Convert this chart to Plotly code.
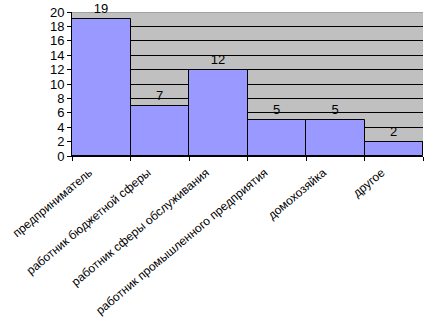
import plotly.graph_objects as go

categories = ["предприниматель", "работник бюджетной сферы", "работник сферы обслуживания",
              "работник промышленного предприятия", "домохозяйка", "другое"]
values = [19, 7, 12, 5, 5, 2]
y_ticks = list(range(0, 21, 2))

fig = go.Figure(go.Bar(
    x=categories, y=values,
    marker=dict(color="#9999ff", line=dict(color="black", width=1)),
    text=[str(v) for v in values], textposition="outside",
    textfont=dict(family="Liberation Sans, Arial", size=13, color="black"),
    cliponaxis=False,
))

fig.update_layout(
    width=431, height=324,
    margin=dict(l=72, r=8, t=12, b=168, autoexpand=False),
    paper_bgcolor="white", plot_bgcolor="#c0c0c0",
    bargap=0, showlegend=False,
    font=dict(family="Liberation Sans, Arial", color="black"),
    uniformtext=dict(minsize=13, mode="show"),
)
fig.update_xaxes(
    tickangle=-40, tickfont=dict(size=12), ticks="outside", ticklen=4, tickcolor="black",
    tickson="boundaries", showline=True, linecolor="black", linewidth=1, showgrid=False,
    ticklabelshift=-12, ticklabelstandoff=4, automargin=False,
)
fig.update_yaxes(
    range=[0, 20], tickvals=y_ticks, ticks="outside", ticklen=4, tickcolor="black",
    tickfont=dict(size=13), showline=True, linecolor="black", linewidth=1,
    showgrid=True, gridcolor="black", gridwidth=1, zeroline=False, automargin=False,
)
fig.add_shape(type="line", xref="paper", yref="y", x0=0, x1=1, y0=20, y1=20,
              line=dict(color="#808080", width=1), layer="below")

fig.write_html("out.html")
